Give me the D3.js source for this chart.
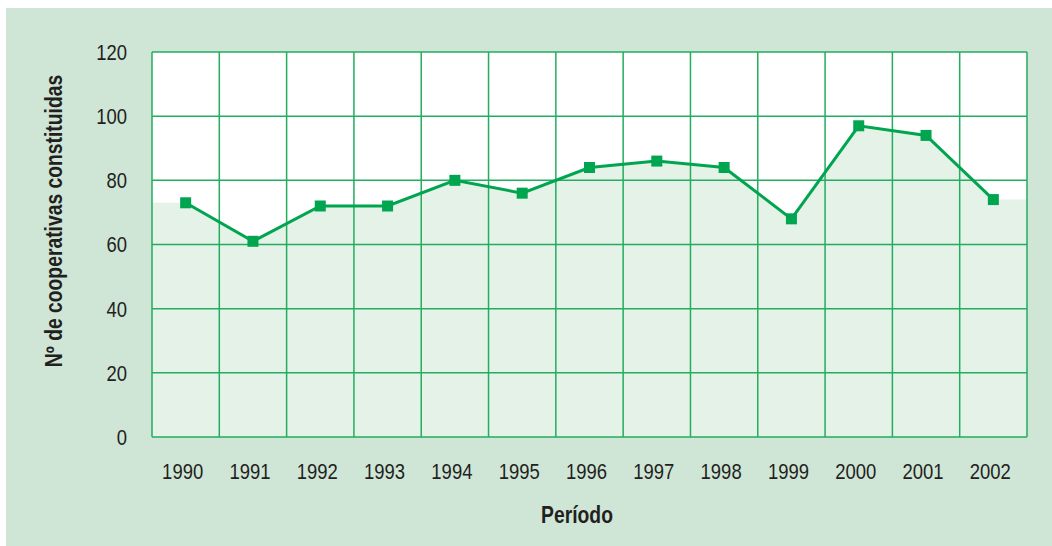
<!DOCTYPE html>
<html>
<head>
<meta charset="utf-8">
<script src="https://cdn.jsdelivr.net/npm/d3@7"></script>
<style>
    body { margin: 0; background: #ffffff; }
    text { font-family: "Liberation Sans", Arial, sans-serif; fill: #231f20; }
</style>
</head>
<body>
<script>
//data
var years = ["1990", "1991", "1992", "1993", "1994", "1995", "1996", "1997", "1998", "1999", "2000", "2001", "2002"];
var cooperativas = [73, 61, 72, 72, 80, 76, 84, 86, 84, 68, 97, 94, 74];
var y_ticks = [0, 20, 40, 60, 80, 100, 120];

//size variables
var width = 1052;
var height = 546;
var plot_left = 152;
var plot_right = 1027;
var plot_top = 52;
var plot_bottom = 437;

//the original font is condensed, so text gets squeezed horizontally
var squeeze = 0.84;

//colour variables
var panel_colour = "#cfe6d7";
var fill_colour = "#e4f2e7";
var grid_colour = "#23ad5f";
var line_colour = "#00a550";

//create canvas
var canvas = d3.select("body").append("svg")
    .attr("width", width)
    .attr("height", height);

//background panel
canvas.append("rect")
    .attr("x", 6)
    .attr("y", 8)
    .attr("width", width - 6)
    .attr("height", height - 8)
    .attr("fill", panel_colour);

//scales
var x = d3.scaleBand()
    .domain(years)
    .range([plot_left, plot_right]);

var y = d3.scaleLinear()
    .domain([0, 120])
    .range([plot_bottom, plot_top]);

//white plot area
canvas.append("rect")
    .attr("x", plot_left)
    .attr("y", plot_top)
    .attr("width", plot_right - plot_left)
    .attr("height", plot_bottom - plot_top)
    .attr("fill", "#ffffff");

//area under the line, extended flat to the plot edges
var points = years.map(function (d, i) { return [x(d) + x.bandwidth() / 2, y(cooperativas[i])] });
var area_points = [[plot_left, points[0][1]]].concat(points, [[plot_right, points[points.length - 1][1]]]);

var area = d3.area()
    .x(function (d) { return d[0] })
    .y0(plot_bottom)
    .y1(function (d) { return d[1] });

canvas.append("path")
    .datum(area_points)
    .attr("d", area)
    .attr("fill", fill_colour);

//grid lines
var grid = canvas.append("g");

grid.selectAll("line.h")
    .data(y_ticks)
    .enter()
    .append("line")
    .attr("class", "h")
    .attr("x1", plot_left)
    .attr("x2", plot_right)
    .attr("y1", function (d) { return y(d) })
    .attr("y2", function (d) { return y(d) })
    .attr("stroke", grid_colour)
    .attr("stroke-width", 1.5);

//vertical lines at every band edge
var edges = years.map(function (d) { return x(d) }).concat([plot_right]);

grid.selectAll("line.v")
    .data(edges)
    .enter()
    .append("line")
    .attr("class", "v")
    .attr("x1", function (d) { return d })
    .attr("x2", function (d) { return d })
    .attr("y1", plot_top)
    .attr("y2", plot_bottom)
    .attr("stroke", grid_colour)
    .attr("stroke-width", 1.5);

//y axis labels
canvas.append("g")
    .selectAll("text")
    .data(y_ticks)
    .enter()
    .append("text")
    .attr("transform", function (d) { return "translate(127," + y(d) + ") scale(" + squeeze + ",1)" })
    .attr("dy", "0.36em")
    .attr("text-anchor", "end")
    .attr("font-size", 22)
    .text(function (d) { return d });

//x axis labels
canvas.append("g")
    .selectAll("text")
    .data(years)
    .enter()
    .append("text")
    .attr("transform", function (d) { return "translate(" + (x(d) + x.bandwidth() / 2 - 3) + ",479) scale(" + squeeze + ",1)" })
    .attr("text-anchor", "middle")
    .attr("font-size", 22)
    .text(function (d) { return d });

//axis titles
canvas.append("text")
    .attr("transform", "translate(577,523) scale(" + squeeze + ",1)")
    .attr("text-anchor", "middle")
    .attr("font-size", 23)
    .attr("font-weight", "bold")
    .text("Período");

canvas.append("text")
    .attr("transform", "translate(62,221) rotate(-90) scale(" + squeeze + ",1)")
    .attr("text-anchor", "middle")
    .attr("font-size", 23)
    .attr("font-weight", "bold")
    .text("Nº de cooperativas constituidas");

//line
var line = d3.line()
    .x(function (d) { return d[0] })
    .y(function (d) { return d[1] });

canvas.append("path")
    .datum(points)
    .attr("d", line)
    .attr("fill", "none")
    .attr("stroke", line_colour)
    .attr("stroke-width", 3);

//square markers
canvas.append("g")
    .selectAll("rect")
    .data(points)
    .enter()
    .append("rect")
    .attr("x", function (d) { return d[0] - 5.5 })
    .attr("y", function (d) { return d[1] - 5.5 })
    .attr("width", 11)
    .attr("height", 11)
    .attr("fill", line_colour);
</script>
</body>
</html>
